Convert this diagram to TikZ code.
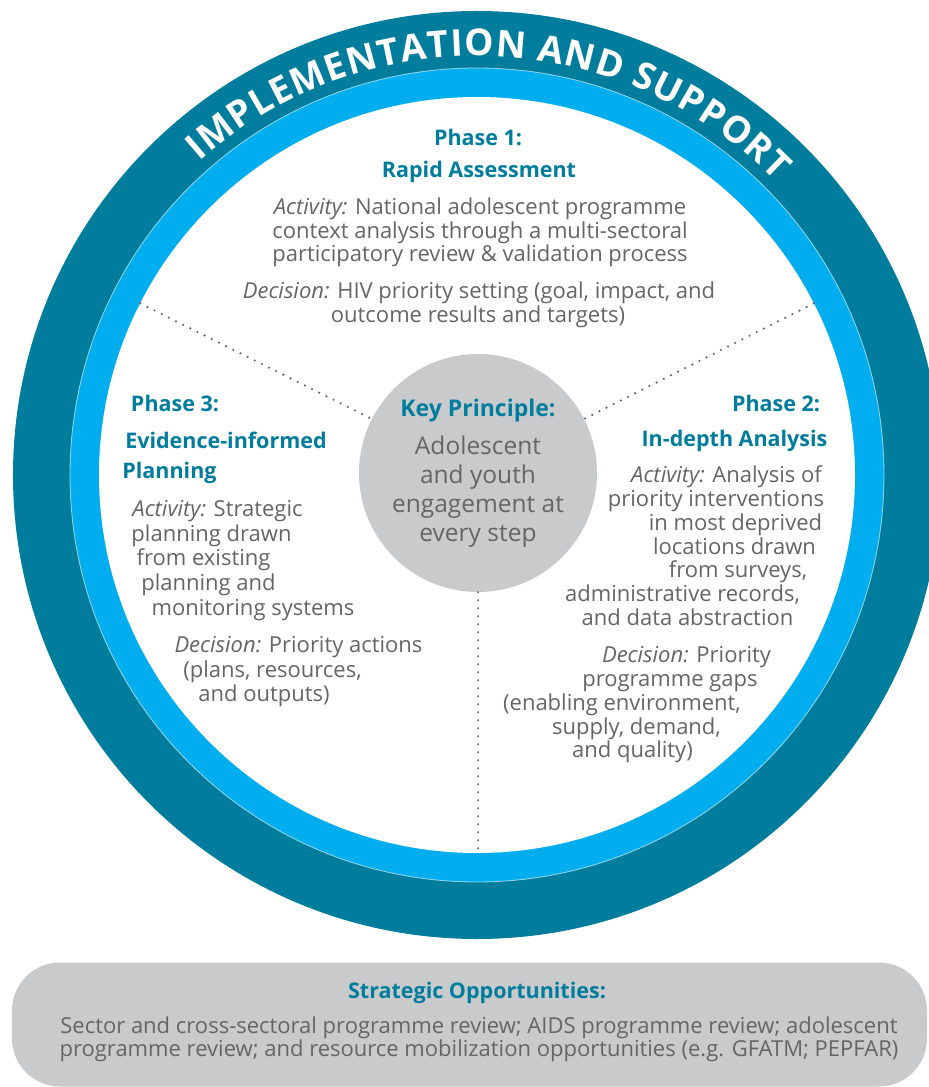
\documentclass[tikz,border=0pt]{standalone}
\usepackage{fontspec}
\setmainfont{Open Sans}
\usetikzlibrary{decorations.text}

\definecolor{ringteal}{RGB}{0,125,157}
\definecolor{ringblue}{RGB}{0,174,239}
\definecolor{discgrey}{RGB}{201,202,204}
\definecolor{textgrey}{RGB}{100,101,103}

\tikzset{
  phasetitle/.style={font=\fontsize{21.5}{25}\selectfont\bfseries, text=ringteal,
    text height=1.5ex, text depth=.25ex, inner sep=0pt},
  bodyline/.style={font=\fontsize{22}{24}\selectfont, text=textgrey,
    text height=1.5ex, text depth=.25ex, inner sep=0pt},
  divider/.style={draw=textgrey, line width=2.4pt, line cap=round, dash pattern=on 0pt off 8pt},
}

\begin{document}
\begin{tikzpicture}[x=1pt,y=1pt]
\useasboundingbox (-477,-612) rectangle (452,475);

% the two rings
\fill[ringteal] (0,0) circle (464);
\fill[ringblue] (0,0) circle (407);
\draw[white, opacity=.6, line width=.8pt] (0,0) circle (407);
\fill[white] (0,0) circle (378);

% lettering on the outer band
\path[decorate, decoration={text along path, text align={fit to path},
  text={|\fontsize{37}{37}\selectfont\bfseries\color{white}|IMPLEMENTATION AND SUPPORT}}]
  (131.5:419) arc[start angle=131.5, end angle=44.5, radius=419];

% key principle in the middle
\node[circle, fill=discgrey, minimum size=238pt, inner sep=0pt, align=center,
  font=\fontsize{24.5}{29}\selectfont, text=textgrey] (key) at (1,2)
  {{\fontsize{23}{27}\selectfont\bfseries\color{ringteal}Key Principle:}\\[9pt]
   Adolescent\\and youth\\engagement at\\every step};

% dotted dividers between the phases
\coordinate (rimL) at (153:378);
\coordinate (rimR) at (27:378);
\coordinate (rimB) at (1,-378);
\draw[divider] (rimL) -- (key.153);
\draw[divider] (rimR) -- (key.27);
\draw[divider] (key.south) -- (rimB);

% phase 1
\node[phasetitle] (p1a) at (1,333) {Phase 1:};
\node[phasetitle] (p1b) at (2,301) {Rapid Assessment};
\foreach \px/\py/\txt [count=\i] in {
    3/264/{\emph{Activity:} National adolescent programme},
    3/240/{context analysis through a multi-sectoral},
    3/217/{participatory review \& validation process},
    2/180/{\emph{Decision:} HIV priority setting (goal, impact, and},
    1/156/{outcome results and targets)}}
  \node[bodyline] (p1-\i) at (\px,\py) {\txt};

% phase 2
\node[phasetitle] (p2a) at (299,67) {Phase 2:};
\node[phasetitle] (p2b) at (257.5,32) {In-depth Analysis};
\foreach \px/\py/\txt [count=\i] in {
    249.5/-4/{\emph{Activity:} Analysis of},
    239/-28/{priority interventions},
    258.5/-52/{in most deprived},
    257.5/-76/{locations drawn},
    261/-99/{from surveys,},
    205.5/-123/{administrative records,},
    210.5/-147/{and data abstraction},
    209.5/-184/{\emph{Decision:} Priority},
    193/-208/{programme gaps},
    145/-232/{(enabling environment,},
    159.5/-256/{supply, demand,},
    155.5/-279/{and quality)}}
  \node[bodyline] (p2-\i) at (\px,\py) {\txt};

% phase 3
\node[phasetitle] (p3a) at (-302,67) {Phase 3:};
\node[phasetitle] (p3b) at (-251,30) {Evidence-informed};
\node[phasetitle] (p3c) at (-307.5,0) {Planning};
\foreach \px/\py/\txt [count=\i] in {
    -259.5/-38/{\emph{Activity:} Strategic},
    -265.5/-63/{planning drawn},
    -273.5/-87/{from existing},
    -268.5/-112/{planning and},
    -224/-137/{monitoring systems},
    -178.5/-174/{\emph{Decision:} Priority actions},
    -204.5/-199/{(plans, resources,},
    -213/-223/{and outputs)}}
  \node[bodyline] (p3-\i) at (\px,\py) {\txt};

% strategic opportunities bar
\node[fill=discgrey, rounded corners=48pt, minimum width=915pt, minimum height=124pt] (opp) at (-7.5,-549.5) {};
\node[phasetitle] (oppt) at (0,-520) {Strategic Opportunities:};
\node[bodyline] (opp1) at (2,-555) {Sector and cross-sectoral programme review; AIDS programme review; adolescent};
\node[bodyline] (opp2) at (2,-578) {programme review; and resource mobilization opportunities (e.g. GFATM; PEPFAR)};
\end{tikzpicture}
\end{document}
